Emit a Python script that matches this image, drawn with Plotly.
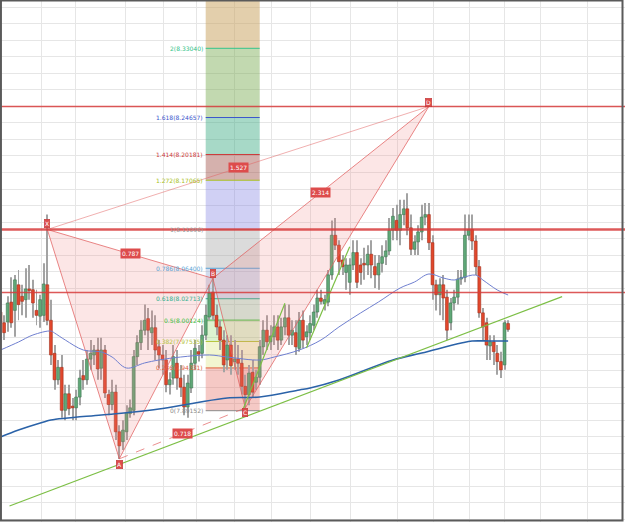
import plotly.graph_objects as go

# ---------------- candle data (price) ----------------
opens = [8.011, 7.998, 7.999, 8.023, 8.013, 8.044, 8.030, 8.026, 8.039, 8.038,
         8.013, 8.006, 8.007, 8.044, 8.001, 7.961, 7.929, 7.944, 7.892, 7.912,
         7.897, 7.895, 7.908, 7.934, 7.929, 7.954, 7.959, 7.965, 7.943, 7.965,
         7.911, 7.899, 7.914, 7.866, 7.854, 7.866, 7.888, 7.892, 7.957, 7.974,
         7.989, 8.003, 7.986, 7.992, 7.969, 7.959, 7.953, 7.923, 7.931, 7.949,
         7.931, 7.920, 7.896, 7.919, 7.949, 7.963, 7.961, 7.983, 8.005, 8.035,
         8.007, 7.993, 7.977, 7.953, 7.971, 7.951, 7.954, 7.949, 7.921, 7.911,
         7.938, 7.926, 7.932, 7.969, 7.989, 7.975, 7.981, 7.993, 7.977, 7.993,
         8.004, 7.983, 7.986, 7.967, 8.001, 7.981, 7.986, 7.995, 8.011, 8.028,
         8.021, 8.023, 8.056, 8.104, 8.092, 8.074, 8.059, 8.047, 8.068, 8.083,
         8.068, 8.070, 8.068, 8.081, 8.066, 8.056, 8.070, 8.078, 8.085, 8.110,
         8.122, 8.110, 8.129, 8.136, 8.113, 8.087, 8.096, 8.108, 8.126, 8.129,
         8.095, 8.044, 8.032, 8.044, 8.029, 7.998, 8.022, 8.029, 8.051, 8.053,
         8.104, 8.111, 8.097, 8.066, 8.010, 7.998, 7.970, 7.975, 7.961, 7.951,
         7.947, 7.997]
highs = [8.020, 8.007, 8.030, 8.053, 8.056, 8.062, 8.044, 8.064, 8.068, 8.050,
         8.038, 8.032, 8.070, 8.129, 8.026, 7.971, 7.953, 7.959, 7.923, 7.923,
         7.907, 7.917, 7.941, 7.953, 7.965, 7.977, 7.971, 7.980, 7.980, 7.971,
         7.917, 7.929, 7.923, 7.874, 7.880, 7.898, 7.905, 7.965, 7.983, 8.001,
         8.020, 8.016, 8.013, 8.007, 7.977, 7.971, 7.965, 7.938, 7.971, 7.965,
         7.947, 7.935, 7.935, 7.965, 7.977, 7.971, 7.995, 8.020, 8.044, 8.052,
         8.020, 8.001, 7.989, 7.983, 7.983, 7.977, 7.971, 7.965, 7.935, 7.947,
         7.953, 7.941, 7.977, 8.001, 8.007, 7.995, 8.007, 8.007, 8.004, 8.020,
         8.020, 8.001, 8.001, 8.011, 8.013, 7.995, 8.007, 8.020, 8.038, 8.038,
         8.032, 8.062, 8.122, 8.125, 8.098, 8.080, 8.076, 8.076, 8.098, 8.098,
         8.076, 8.089, 8.092, 8.098, 8.080, 8.080, 8.092, 8.098, 8.125, 8.137,
         8.141, 8.147, 8.147, 8.155, 8.129, 8.104, 8.116, 8.141, 8.143, 8.143,
         8.104, 8.050, 8.052, 8.056, 8.038, 8.028, 8.038, 8.062, 8.062, 8.129,
         8.129, 8.129, 8.104, 8.074, 8.016, 8.004, 7.983, 7.983, 7.971, 7.963,
         8.001, 8.001]
lows = [7.989, 7.977, 7.987, 7.992, 7.981, 8.001, 8.007, 8.004, 8.026, 8.004,
        7.995, 7.992, 7.999, 7.995, 7.947, 7.917, 7.923, 7.883, 7.880, 7.886,
        7.880, 7.880, 7.898, 7.917, 7.923, 7.941, 7.947, 7.929, 7.929, 7.907,
        7.886, 7.892, 7.856, 7.833, 7.844, 7.856, 7.883, 7.886, 7.947, 7.965,
        7.983, 7.965, 7.971, 7.953, 7.943, 7.935, 7.914, 7.911, 7.923, 7.917,
        7.908, 7.886, 7.883, 7.913, 7.941, 7.951, 7.955, 7.977, 8.001, 8.001,
        7.983, 7.965, 7.938, 7.941, 7.935, 7.941, 7.935, 7.911, 7.895, 7.898,
        7.907, 7.917, 7.923, 7.959, 7.965, 7.965, 7.971, 7.965, 7.971, 7.983,
        7.971, 7.971, 7.959, 7.963, 7.967, 7.971, 7.977, 7.989, 8.004, 8.020,
        8.013, 8.018, 8.050, 8.086, 8.056, 8.056, 8.038, 8.032, 8.062, 8.040,
        8.044, 8.050, 8.056, 8.052, 8.040, 8.038, 8.059, 8.068, 8.080, 8.098,
        8.098, 8.092, 8.116, 8.104, 8.080, 8.080, 8.080, 8.098, 8.116, 8.086,
        8.026, 8.013, 8.007, 8.001, 7.977, 7.989, 8.013, 8.020, 8.044, 8.047,
        8.098, 8.086, 8.056, 8.004, 7.977, 7.953, 7.953, 7.947, 7.935, 7.931,
        7.941, 7.987]
closes = [7.998, 7.986, 8.022, 7.998, 8.050, 8.020, 8.024, 8.039, 8.037, 8.022,
          8.007, 8.026, 8.045, 8.001, 7.959, 7.929, 7.944, 7.892, 7.912, 7.894,
          7.895, 7.908, 7.931, 7.929, 7.954, 7.961, 7.965, 7.942, 7.965, 7.913,
          7.899, 7.914, 7.866, 7.849, 7.868, 7.889, 7.895, 7.957, 7.974, 7.989,
          8.001, 7.989, 7.992, 7.965, 7.959, 7.953, 7.923, 7.929, 7.957, 7.931,
          7.920, 7.896, 7.925, 7.949, 7.967, 7.960, 7.983, 8.007, 8.034, 8.007,
          7.993, 7.977, 7.947, 7.971, 7.946, 7.954, 7.949, 7.921, 7.911, 7.937,
          7.914, 7.932, 7.969, 7.989, 7.975, 7.982, 7.993, 7.977, 7.993, 8.004,
          7.983, 7.989, 7.969, 8.001, 7.977, 7.987, 7.997, 8.011, 8.028, 8.024,
          8.026, 8.056, 8.104, 8.092, 8.072, 8.066, 8.068, 8.068, 8.083, 8.047,
          8.059, 8.068, 8.081, 8.068, 8.056, 8.070, 8.078, 8.085, 8.110, 8.127,
          8.110, 8.129, 8.136, 8.113, 8.087, 8.096, 8.108, 8.126, 8.129, 8.095,
          8.044, 8.032, 8.044, 8.028, 7.989, 8.022, 8.029, 8.051, 8.053, 8.104,
          8.111, 8.097, 8.066, 8.010, 7.993, 7.971, 7.975, 7.963, 7.951, 7.941,
          7.998, 7.990]
bars = list(range(len(opens)))

# ---------------- moving averages (bar index, price) ----------------
ma_fast_x = [0, 5, 9, 14, 15, 18, 23, 28, 31, 35, 40, 44, 50, 58, 63, 72, 76, 83,
             89, 94, 100, 105, 111, 115, 119, 123, 126, 128, 132, 134, 138, 141]
ma_fast_y = [7.9650, 7.9747, 7.9832, 7.9880, 7.9856, 7.9771, 7.9650, 7.9626, 7.9565,
             7.9432, 7.9493, 7.9529, 7.9565, 7.9590, 7.9565, 7.9529, 7.9565, 7.9650,
             7.9771, 7.9929, 8.0098, 8.0232, 8.0401, 8.0474, 8.0571, 8.0522, 8.0498,
             8.0522, 8.0558, 8.0498, 8.0377, 8.0316]
ma_slow_x = [0, 5, 12, 14, 28, 37, 44, 54, 63, 72, 83, 86, 94, 109, 117, 128, 131, 136, 141]
ma_slow_y = [7.8597, 7.8681, 7.8778, 7.8802, 7.8863, 7.8899, 7.8936, 7.9008, 7.9069,
             7.9081, 7.9166, 7.9190, 7.9287, 7.9529, 7.9614, 7.9735, 7.9759, 7.9759, 7.9759]

# ---------------- harmonic pattern ----------------
pat_names = ["X", "A", "B", "C", "D"]
pat_x = [13, 33, 59, 68, 119]
pat_y = [8.1110, 7.8332, 8.0518, 7.8948, 8.2600]
ratio_labels = ["0.787", "0.718", "1.527", "2.314"]   # XB, AC, XD, BD

# ---------------- fibonacci tool ----------------
fib_p0, fib_p1 = 7.89152, 8.11096
fib_x = [57, 72]
fib_ratios = [0, 0.236, 0.382, 0.5, 0.618, 0.786, 1, 1.272, 1.414, 1.618, 2]
fib_line_colors = ["#8a8a8a", "#e0603c", "#b5c43c", "#3fbf3f", "#2fb08f", "#5aa5d6",
                   "#9a9a9a", "#a8c020", "#cc3b3b", "#3b55cc", "#33c48a"]
fib_band_colors = ["rgba(225,100,90,0.35)", "rgba(215,225,110,0.32)", "rgba(140,215,100,0.30)",
                   "rgba(100,200,150,0.30)", "rgba(120,150,200,0.33)", "rgba(160,160,160,0.38)",
                   "rgba(125,125,225,0.36)", "rgba(150,60,50,0.40)", "rgba(60,170,130,0.45)",
                   "rgba(120,170,80,0.45)", "rgba(200,160,90,0.50)"]

# ---------------- other lines ----------------
h_levels = [8.2600, 8.1110, 8.0346]
h_widths = [1.6, 2.4, 1.6]
trend_x = [2.5, 156]
trend_y = [7.7761, 8.0296]
short1_x = [67.5, 79]
short1_y = [7.8944, 8.0216]
short2_x = [85, 97]
short2_y = [7.9674, 8.0901]

grid_x = [11.4, 20.7, 34.6, 45.2, 54.5, 65.1, 75.3, 86, 97.1, 110.2, 120.2, 130.2,
          140.1, 150, 163.1]

Y_MIN, Y_MAX = 7.75672, 8.38891
X_MIN, X_MAX = -0.139, 173.47

fig = go.Figure()

pink_line = "rgba(225,95,95,0.75)"
pink_fill = "rgba(240,130,130,0.20)"

# fib bands + lines (shapes between grid and traces)
shapes = []
for i, r in enumerate(fib_ratios):
    lo = fib_p0 + r * (fib_p1 - fib_p0)
    hi = fib_p0 + fib_ratios[i + 1] * (fib_p1 - fib_p0) if i + 1 < len(fib_ratios) else Y_MAX + 0.05
    shapes.append(dict(type="rect", xref="x", yref="y", x0=fib_x[0], x1=fib_x[1],
                       y0=lo, y1=hi, fillcolor=fib_band_colors[i], line=dict(width=0),
                       layer="between"))
for i, r in enumerate(fib_ratios):
    lv = fib_p0 + r * (fib_p1 - fib_p0)
    shapes.append(dict(type="line", xref="x", yref="y", x0=fib_x[0], x1=fib_x[1],
                       y0=lv, y1=lv, line=dict(color=fib_line_colors[i], width=1),
                       layer="between"))

# candles: wicks as thin gray bars, bodies as wider coloured bars
wick_h = [h - l for h, l in zip(highs, lows)]
fig.add_trace(go.Bar(x=bars, y=wick_h, base=lows, width=0.28,
                     marker=dict(color="#a3a3a3", line=dict(width=0)), hoverinfo="skip"))
body_lo = [min(o, c) for o, c in zip(opens, closes)]
body_h = [max(abs(c - o), 0.0012) for o, c in zip(opens, closes)]
up = [c >= o for o, c in zip(opens, closes)]
fig.add_trace(go.Bar(x=bars, y=body_h, base=body_lo, width=0.8,
                     marker=dict(color=["#5fa877" if u else "#e2472c" for u in up],
                                 line=dict(color=["#3f7552" if u else "#a3301c" for u in up],
                                           width=0.6)),
                     hoverinfo="skip"))

# triangles XAB and BCD
for ids in ([0, 1, 2], [2, 3, 4]):
    xs = [pat_x[i] for i in ids] + [pat_x[ids[0]]]
    ys = [pat_y[i] for i in ids] + [pat_y[ids[0]]]
    fig.add_trace(go.Scatter(x=xs, y=ys, mode="lines", fill="toself",
                             fillcolor=pink_fill, line=dict(color=pink_line, width=1),
                             hoverinfo="skip"))

# moving averages
fig.add_trace(go.Scatter(x=ma_fast_x, y=ma_fast_y, mode="lines", line_shape="spline",
                         line=dict(color="#6f7fd0", width=1), hoverinfo="skip"))
fig.add_trace(go.Scatter(x=ma_slow_x, y=ma_slow_y, mode="lines", line_shape="spline",
                         line=dict(color="#2a62a8", width=1.6), hoverinfo="skip"))

# green trend lines
for xs, ys in ((trend_x, trend_y), (short1_x, short1_y), (short2_x, short2_y)):
    fig.add_trace(go.Scatter(x=xs, y=ys, mode="lines",
                             line=dict(color="#7cbf45", width=1.2), hoverinfo="skip"))

# dashed/thin pattern lines: A-C and X-D
fig.add_trace(go.Scatter(x=[pat_x[1], pat_x[3]], y=[pat_y[1], pat_y[3]], mode="lines",
                         line=dict(color="rgba(225,95,95,0.7)", width=1, dash="dash"), hoverinfo="skip"))
fig.add_trace(go.Scatter(x=[pat_x[0], pat_x[4]], y=[pat_y[0], pat_y[4]], mode="lines",
                         line=dict(color="rgba(225,95,95,0.5)", width=1), hoverinfo="skip"))

# horizontal red levels
for lv, w in zip(h_levels, h_widths):
    shapes.append(dict(type="line", xref="paper", yref="y", x0=0, x1=1, y0=lv, y1=lv,
                       line=dict(color="rgba(215,60,60,0.85)", width=w), layer="above"))

# border
shapes.append(dict(type="rect", xref="paper", yref="paper", x0=0.0015, x1=622.5 / 625,
                   y0=1 - 520.5 / 522, y1=0.999, line=dict(color="#5a5a5a", width=2),
                   layer="above"))

annotations = []
# fib labels
for i, r in enumerate(fib_ratios):
    lv = fib_p0 + r * (fib_p1 - fib_p0)
    annotations.append(dict(x=fib_x[0], y=lv, xref="x", yref="y", text=f"{r:g}({lv:.5f})",
                            showarrow=False, xanchor="right", yanchor="middle", xshift=-1,
                            font=dict(size=6, color=fib_line_colors[i], family="DejaVu Sans")))
# ratio labels at midpoints
pairs = [(0, 2), (1, 3), (0, 4), (2, 4)]
for (a, b), t in zip(pairs, ratio_labels):
    annotations.append(dict(x=(pat_x[a] + pat_x[b]) / 2, y=(pat_y[a] + pat_y[b]) / 2,
                            xref="x", yref="y", text=t, showarrow=False,
                            bgcolor="#dd4c4c", borderpad=1,
                            font=dict(size=6, color="white", family="DejaVu Sans")))
# point labels
shifts = [6, -6, 5, -5, 4]
for n, x, y, s in zip(pat_names, pat_x, pat_y, shifts):
    annotations.append(dict(x=x, y=y, xref="x", yref="y", text=n, showarrow=False,
                            yshift=s, bgcolor="#dd4c4c", borderpad=0.5,
                            bordercolor="#b33", borderwidth=0.5,
                            font=dict(size=6, color="white", family="DejaVu Sans")))

fig.update_layout(
    width=625, height=522, margin=dict(l=0, r=0, t=0, b=0),
    paper_bgcolor="white", plot_bgcolor="white", showlegend=False,
    shapes=shapes, annotations=annotations, barmode="overlay",
    xaxis=dict(range=[X_MIN, X_MAX], tickmode="array", tickvals=grid_x,
               showticklabels=False, showgrid=True, gridcolor="#e6e6e6", gridwidth=1,
               zeroline=False, fixedrange=True),
    yaxis=dict(range=[Y_MIN, Y_MAX], tick0=7.76, dtick=0.02, showticklabels=False,
               showgrid=True, gridcolor="#e6e6e6", gridwidth=1, zeroline=False,
               fixedrange=True),
)

fig.write_html("out.html")
